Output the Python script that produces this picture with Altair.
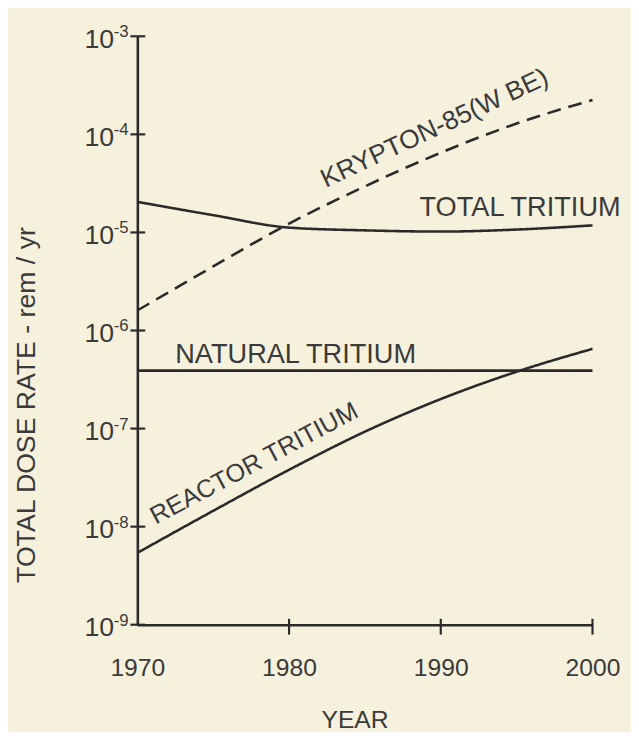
import altair as alt
import pandas as pd

years = [1970, 1975, 1980, 1985, 1990, 1995, 2000]
reactor = [5.4e-9, 1.45e-8, 3.8e-8, 9.3e-8, 2.0e-7, 3.8e-7, 6.5e-7]
natural = [3.9e-7, 3.9e-7, 3.9e-7, 3.9e-7, 3.9e-7, 3.9e-7, 3.9e-7]
total = [2.05e-5, 1.5e-5, 1.12e-5, 1.05e-5, 1.02e-5, 1.07e-5, 1.18e-5]
krypton = [1.6e-6, 4.5e-6, 1.23e-5, 2.95e-5, 6.5e-5, 1.29e-4, 2.24e-4]

series_names = ["REACTOR TRITIUM", "NATURAL TRITIUM", "TOTAL TRITIUM", "KRYPTON-85(W BE)"]
series_vals = [reactor, natural, total, krypton]

y_ticks = [1e-9, 1e-8, 1e-7, 1e-6, 1e-5, 1e-4, 1e-3]
y_exponents = ["-9", "-8", "-7", "-6", "-5", "-4", "-3"]
x_ticks = [1970, 1980, 1990, 2000]

# label annotations
lab_text = ["KRYPTON-85(W BE)", "TOTAL TRITIUM", "NATURAL TRITIUM", "REACTOR TRITIUM"]
lab_year = [1989.6, 1988.6, 1972.5, 1977.7]
lab_val = [1.15e-4, 1.48e-5, 4.7e-7, 4.4e-8]
lab_angle = [335, 0, 0, 332]
lab_align = ["center", "left", "left", "center"]
lab_base = ["middle", "alphabetic", "alphabetic", "middle"]
lab_size = [26.5, 27.5, 27.5, 25.5]

INK = "#2a2a2a"
TXT = "#3a3a3a"
FONT = "Liberation Sans"

rows = []
for name, vals in zip(series_names, series_vals):
    for yr, v in zip(years, vals):
        rows.append({"series": name, "year": yr, "value": v})
df = pd.DataFrame(rows)

xscale = alt.Scale(domain=[1970, 2000], nice=False, zero=False)
yscale = alt.Scale(type="log", domain=[1e-9, 1e-3], nice=False)

XT = "YEAR"
YT = "TOTAL DOSE RATE - rem / yr"

xaxis = alt.Axis(values=x_ticks, format="d", title=XT, ticks=False, grid=False,
                 domainColor=INK, domainWidth=2.6, labelFont=FONT, labelFontSize=25,
                 labelColor=TXT, labelPadding=31, titleFont=FONT, titleFontSize=25,
                 titleFontWeight="normal", titleColor=TXT, titleX=220, titleY=84,
                 titleBaseline="top", labelFlush=False)
yaxis = alt.Axis(values=y_ticks, title=YT, ticks=False, grid=False,
                 domainColor=INK, domainWidth=2.6, labelFont=FONT, labelFontSize=27,
                 labelColor=TXT, labelPadding=24, labelOffset=3, labelBaseline="middle",
                 labelExpr="'10'",
                 titleFont=FONT, titleFontSize=27, titleFontWeight="normal",
                 titleColor=TXT, titleX=-112, titleY=373, titleBaseline="middle",
                 labelFlush=False)

lines = alt.Chart(df).mark_line(strokeWidth=2.6, color=INK, interpolate="monotone").encode(
    x=alt.X("year:Q", scale=xscale, axis=xaxis, title=XT),
    y=alt.Y("value:Q", scale=yscale, axis=yaxis, title=YT),
    detail="series:N",
    strokeDash=alt.StrokeDash("series:N", scale=alt.Scale(domain=series_names,
                              range=[[1, 0], [1, 0], [1, 0], [14, 8]]), legend=None),
)

ytick_df = pd.DataFrame({"value": y_ticks, "exp": y_exponents})
yticks = alt.Chart(ytick_df).mark_rule(color=INK, strokeWidth=2.2).encode(
    y=alt.Y("value:Q", scale=yscale, axis=yaxis, title=YT),
    x=alt.value(-7), x2=alt.value(8),
)
yexp = alt.Chart(ytick_df).mark_text(font=FONT, fontSize=17, color=TXT, align="left",
                                      baseline="alphabetic", dy=1).encode(
    y=alt.Y("value:Q", scale=yscale, axis=yaxis, title=YT),
    x=alt.value(-24),
    text="exp:N",
)

xtick_df = pd.DataFrame({"year": x_ticks[1:]})
xticks = alt.Chart(xtick_df).mark_rule(color=INK, strokeWidth=2.2).encode(
    x=alt.X("year:Q", scale=xscale, axis=xaxis, title=XT),
    y=alt.value(590), y2=alt.value(606),
)

lab_df = pd.DataFrame({"text": lab_text, "year": lab_year, "value": lab_val})
texts = []
for i in range(len(lab_text)):
    texts.append(
        alt.Chart(lab_df.iloc[[i]]).mark_text(font=FONT, fontSize=lab_size[i], color=TXT,
                                              angle=lab_angle[i], align=lab_align[i],
                                              baseline=lab_base[i]).encode(
            x=alt.X("year:Q", scale=xscale, axis=xaxis, title=XT),
            y=alt.Y("value:Q", scale=yscale, axis=yaxis, title=YT),
            text="text:N",
        )
    )

chart = alt.layer(lines, yticks, yexp, xticks, *texts).properties(
    width=461, height=596,
    autosize=alt.AutoSizeParams(type="none"),
    padding={"left": 131, "top": 24, "right": 39, "bottom": 104},
).configure(background="#f6f1dd").configure_view(stroke=None)

chart.save("out.html", embed_options={"renderer": "svg", "actions": False})
